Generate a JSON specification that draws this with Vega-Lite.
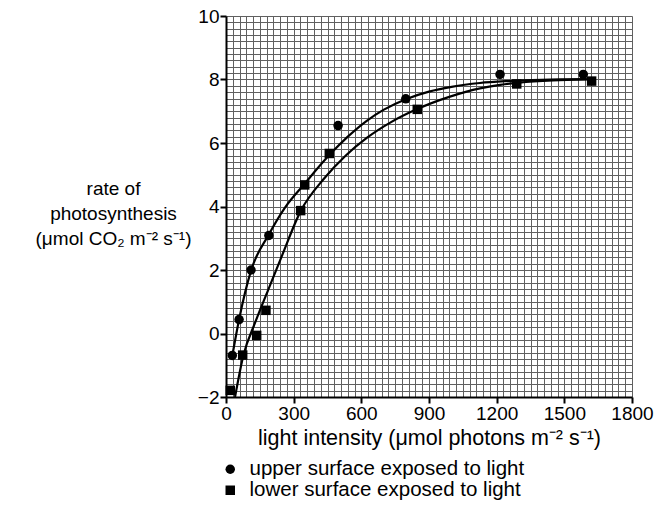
{
  "$schema": "https://vega.github.io/schema/vega-lite/v6.json",
  "autosize": "none",
  "width": 406,
  "height": 381,
  "padding": {"left": 226, "top": 16, "right": 25, "bottom": 109},
  "background": "white",
  "config": {
    "view": {"stroke": null},
    "font": "Liberation Sans",
    "axis": {"labelFont": "Liberation Sans", "titleFont": "Liberation Sans", "labelColor": "black", "titleColor": "black", "titleFontWeight": "normal"},
    "legend": {"labelFont": "Liberation Sans", "labelColor": "black"}
  },
  "datasets": {
    "points": [
      {"x": 28, "y": -0.69, "surface": "upper surface exposed to light"},
      {"x": 58, "y": 0.44, "surface": "upper surface exposed to light"},
      {"x": 111, "y": 2.0, "surface": "upper surface exposed to light"},
      {"x": 190, "y": 3.09, "surface": "upper surface exposed to light"},
      {"x": 497, "y": 6.55, "surface": "upper surface exposed to light"},
      {"x": 797, "y": 7.39, "surface": "upper surface exposed to light"},
      {"x": 1215, "y": 8.16, "surface": "upper surface exposed to light"},
      {"x": 1584, "y": 8.16, "surface": "upper surface exposed to light"},
      {"x": 19, "y": -1.79, "surface": "lower surface exposed to light"},
      {"x": 74, "y": -0.68, "surface": "lower surface exposed to light"},
      {"x": 136, "y": -0.06, "surface": "lower surface exposed to light"},
      {"x": 177, "y": 0.73, "surface": "lower surface exposed to light"},
      {"x": 331, "y": 3.87, "surface": "lower surface exposed to light"},
      {"x": 349, "y": 4.68, "surface": "lower surface exposed to light"},
      {"x": 458, "y": 5.67, "surface": "lower surface exposed to light"},
      {"x": 848, "y": 7.06, "surface": "lower surface exposed to light"},
      {"x": 1289, "y": 7.86, "surface": "lower surface exposed to light"},
      {"x": 1621, "y": 7.95, "surface": "lower surface exposed to light"}
    ],
    "curves": [
      {"x": 28, "y": -0.7, "series": "upper"},
      {"x": 58, "y": 0.44, "series": "upper"},
      {"x": 111, "y": 1.98, "series": "upper"},
      {"x": 190, "y": 3.12, "series": "upper"},
      {"x": 260, "y": 3.95, "series": "upper"},
      {"x": 349, "y": 4.72, "series": "upper"},
      {"x": 458, "y": 5.62, "series": "upper"},
      {"x": 540, "y": 6.2, "series": "upper"},
      {"x": 624, "y": 6.7, "series": "upper"},
      {"x": 700, "y": 7.05, "series": "upper"},
      {"x": 797, "y": 7.38, "series": "upper"},
      {"x": 900, "y": 7.62, "series": "upper"},
      {"x": 1000, "y": 7.77, "series": "upper"},
      {"x": 1126, "y": 7.89, "series": "upper"},
      {"x": 1250, "y": 7.95, "series": "upper"},
      {"x": 1400, "y": 7.99, "series": "upper"},
      {"x": 1600, "y": 8.01, "series": "upper"},
      {"x": 40, "y": -2.0, "series": "lower"},
      {"x": 77, "y": -0.69, "series": "lower"},
      {"x": 129, "y": 0.34, "series": "lower"},
      {"x": 188, "y": 1.39, "series": "lower"},
      {"x": 247, "y": 2.43, "series": "lower"},
      {"x": 332, "y": 3.87, "series": "lower"},
      {"x": 435, "y": 4.88, "series": "lower"},
      {"x": 530, "y": 5.6, "series": "lower"},
      {"x": 624, "y": 6.16, "series": "lower"},
      {"x": 730, "y": 6.65, "series": "lower"},
      {"x": 845, "y": 7.06, "series": "lower"},
      {"x": 993, "y": 7.46, "series": "lower"},
      {"x": 1126, "y": 7.72, "series": "lower"},
      {"x": 1215, "y": 7.83, "series": "lower"},
      {"x": 1300, "y": 7.9, "series": "lower"},
      {"x": 1450, "y": 7.97, "series": "lower"},
      {"x": 1600, "y": 8.0, "series": "lower"}
    ]
  },
  "layer": [
    {
      "data": {"name": "curves"},
      "mark": {"type": "line", "interpolate": "monotone", "color": "black", "strokeWidth": 2.2},
      "encoding": {
        "x": {
          "field": "x", "type": "quantitative",
          "scale": {"domain": [0, 1800], "nice": false, "zero": false},
          "axis": {
            "orient": "bottom", "title": null, "labels": false, "ticks": false, "domain": false,
            "grid": true, "gridColor": "#606060", "gridWidth": 1, "gridOpacity": 1,
            "values": [0,30,60,90,120,150,180,210,240,270,300,330,360,390,420,450,480,510,540,570,600,630,660,690,720,750,780,810,840,870,900,930,960,990,1020,1050,1080,1110,1140,1170,1200,1230,1260,1290,1320,1350,1380,1410,1440,1470,1500,1530,1560,1590,1620,1650,1680,1710,1740,1770,1800]
          }
        },
        "y": {
          "field": "y", "type": "quantitative",
          "scale": {"domain": [-2, 10], "nice": false, "zero": false},
          "axis": {
            "orient": "left", "title": null, "labels": false, "ticks": false, "domain": false,
            "grid": true, "gridColor": "#606060", "gridWidth": 1, "gridOpacity": 1,
            "values": [-2,-1.8,-1.6,-1.4,-1.2,-1,-0.8,-0.6,-0.4,-0.2,0,0.2,0.4,0.6,0.8,1,1.2,1.4,1.6,1.8,2,2.2,2.4,2.6,2.8,3,3.2,3.4,3.6,3.8,4,4.2,4.4,4.6,4.8,5,5.2,5.4,5.6,5.8,6,6.2,6.4,6.6,6.8,7,7.2,7.4,7.6,7.8,8,8.2,8.4,8.6,8.8,9,9.2,9.4,9.6,9.8,10]
          }
        },
        "detail": {"field": "series", "type": "nominal"}
      }
    },
    {
      "data": {"name": "points"},
      "mark": {"type": "point", "filled": true, "color": "black", "opacity": 1, "size": 90},
      "encoding": {
        "x": {
          "field": "x", "type": "quantitative",
          "axis": {
            "orient": "bottom", "values": [0,300,600,900,1200,1500,1800], "format": "d", "grid": false,
            "domain": true, "domainColor": "black", "domainWidth": 2,
            "ticks": true, "tickColor": "black", "tickWidth": 2, "tickSize": 6,
            "labelFontSize": 19, "labelPadding": 1, "labelFlush": false,
            "title": "light intensity (μmol photons m⁻² s⁻¹)", "titleFontSize": 21.5, "titlePadding": 4
          }
        },
        "y": {
          "field": "y", "type": "quantitative",
          "axis": {
            "orient": "left", "values": [-2,0,2,4,6,8,10], "format": "d", "grid": false,
            "domain": true, "domainColor": "black", "domainWidth": 2,
            "ticks": true, "tickColor": "black", "tickWidth": 2, "tickSize": 6,
            "labelFontSize": 19, "labelPadding": 1, "labelFlush": false,
            "title": ["rate of", "photosynthesis", "(μmol CO₂ m⁻² s⁻¹)"],
            "titleFontSize": 19, "titleAngle": 0, "titleAlign": "center", "titleBaseline": "middle",
            "titleLineHeight": 25, "titleX": -113, "titleY": 172
          }
        },
        "shape": {
          "field": "surface", "type": "nominal",
          "scale": {"domain": ["upper surface exposed to light", "lower surface exposed to light"], "range": ["circle", "square"]},
          "legend": {
            "title": null, "orient": "none", "legendX": -6, "legendY": 443,
            "labelFontSize": 20.5, "labelLimit": 500, "symbolFillColor": "black", "symbolStrokeColor": "black",
            "symbolSize": 90, "rowPadding": -2, "labelOffset": 9
          }
        }
      }
    }
  ],
  "resolve": {"axis": {"x": "independent", "y": "independent"}}
}
